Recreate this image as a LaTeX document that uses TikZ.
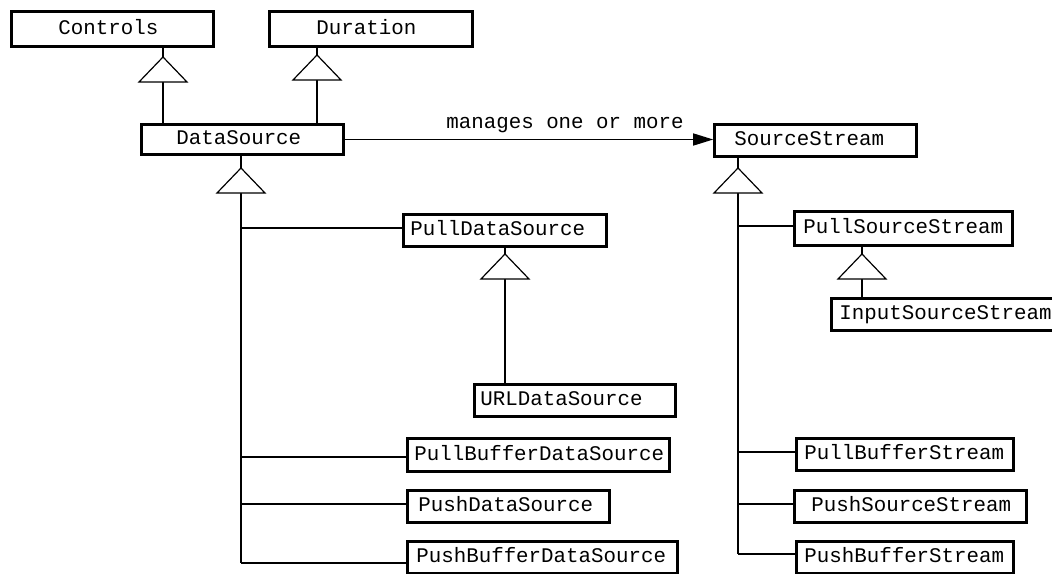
\documentclass[tikz,border=0pt]{standalone}
\usepackage{fontspec}
\newfontfamily\umlfont{Liberation Mono}
\usetikzlibrary{arrows.meta}
\tikzset{
  cls/.style={draw, line width=2.8pt, anchor=west, align=left, inner ysep=0pt,
    text height=14pt, text depth=4pt,
    font=\umlfont\fontsize{20.8}{24}\selectfont},
  conn/.style={line width=1.5pt},
  tri/.style={line width=1.2pt, fill=white, line join=miter},
  lbl/.style={inner sep=0pt, font=\umlfont\fontsize{20.8}{24}\selectfont}
}
\newcommand\inhtri[1]{\draw[tri] (#1) -- ++(-24,25) -- ++(48,0) -- cycle;}
\begin{document}
\begin{tikzpicture}[x=1pt,y=-1pt]
\useasboundingbox (0,0) rectangle (1052,573);
\clip (0,0) rectangle (1052,573);
% class boxes
\node[cls, minimum height=35.6pt, inner xsep=46.8pt, text width=108pt] (ctrl) at (10.2,29) {\mbox{Controls}};
\node[cls, minimum height=35.6pt, inner xsep=46.8pt, text width=109pt] (dur) at (268.2,29) {\mbox{Duration}};
\node[cls, minimum height=30.6pt, inner xsep=34.8pt, text width=132pt] (ds) at (140.2,139.5) {\mbox{DataSource}};
\node[cls, minimum height=32.6pt, inner xsep=19.8pt, text width=162pt] (ss) at (713.2,140.5) {\mbox{SourceStream}};
\node[cls, minimum height=32.6pt, inner xsep=6.8pt, text width=189pt] (pds) at (402.2,230.5) {\mbox{PullDataSource}};
\node[cls, minimum height=32.6pt, inner xsep=5.8pt, text width=189pt] (url) at (473.2,400.5) {\mbox{URLDataSource}};
\node[cls, minimum height=33.6pt, inner xsep=6.8pt, text width=248pt] (pbds) at (406.2,455) {\mbox{PullBufferDataSource}};
\node[cls, minimum height=32.6pt, inner xsep=10.8pt, text width=180pt] (shds) at (406.2,506.5) {\mbox{PushDataSource}};
\node[cls, minimum height=32.6pt, inner xsep=8.8pt, text width=252pt] (sbds) at (406.2,557.5) {\mbox{PushBufferDataSource}};
\node[cls, minimum height=34.6pt, inner xsep=8.8pt, text width=200pt] (pss) at (793.2,228.5) {\mbox{PullSourceStream}};
\node[cls, minimum height=32.6pt, inner xsep=7.8pt, text width=215pt] (iss) at (830.2,314.5) {\mbox{InputSourceStream}};
\node[cls, minimum height=32.6pt, inner xsep=7.8pt, text width=201pt] (pbs) at (795.2,454.5) {\mbox{PullBufferStream}};
\node[cls, minimum height=32.6pt, inner xsep=16.8pt, text width=198pt] (shs) at (793.2,506.5) {\mbox{PushSourceStream}};
\node[cls, minimum height=32.6pt, inner xsep=7.8pt, text width=201pt] (sbs) at (795.2,557.5) {\mbox{PushBufferStream}};
% association
\draw[conn, -{Triangle[length=20pt,width=12pt]}] (ds.east) -- (ds.east -| ss.west);
\node[lbl, anchor=base] (mg) at (565,128) {manages one or more};
% inheritance DataSource -> Controls, Duration
\coordinate (t1) at (163,57);
\coordinate (t1b) at (163,82);
\draw[conn] (t1 |- ctrl.south) -- (t1);
\draw[conn] (t1b) -- (t1b |- ds.north);
\inhtri{t1}
\coordinate (t2) at (317,55);
\coordinate (t2b) at (317,80);
\draw[conn] (t2 |- dur.south) -- (t2);
\draw[conn] (t2b) -- (t2b |- ds.north);
\inhtri{t2}
% DataSource subclasses
\coordinate (t3) at (241,168);
\coordinate (t3b) at (241,193);
\coordinate (b1) at (241,228);
\coordinate (b2) at (241,457);
\coordinate (b3) at (241,504);
\coordinate (b4) at (241,563);
\draw[conn] (t3 |- ds.south) -- (t3);
\draw[conn] (t3b) -- (b4);
\draw[conn] (b1) -- (b1 -| pds.west);
\draw[conn] (b2) -- (b2 -| pbds.west);
\draw[conn] (b3) -- (b3 -| shds.west);
\draw[conn] (b4) -- (b4 -| sbds.west);
\inhtri{t3}
\coordinate (t5) at (505,254);
\coordinate (t5b) at (505,279);
\draw[conn] (t5 |- pds.south) -- (t5);
\draw[conn] (t5b) -- (t5b |- url.north);
\inhtri{t5}
% SourceStream subclasses
\coordinate (t4) at (738,168);
\coordinate (t4b) at (738,193);
\coordinate (c1) at (738,226);
\coordinate (c2) at (738,452);
\coordinate (c3) at (738,504);
\coordinate (c4) at (738,554);
\draw[conn] (t4 |- ss.south) -- (t4);
\draw[conn] (t4b) -- (c4);
\draw[conn] (c1) -- (c1 -| pss.west);
\draw[conn] (c2) -- (c2 -| pbs.west);
\draw[conn] (c3) -- (c3 -| shs.west);
\draw[conn] (c4) -- (c4 -| sbs.west);
\inhtri{t4}
\coordinate (t6) at (862,254);
\coordinate (t6b) at (862,279);
\draw[conn] (t6 |- pss.south) -- (t6);
\draw[conn] (t6b) -- (t6b |- iss.north);
\inhtri{t6}
\end{tikzpicture}
\end{document}
